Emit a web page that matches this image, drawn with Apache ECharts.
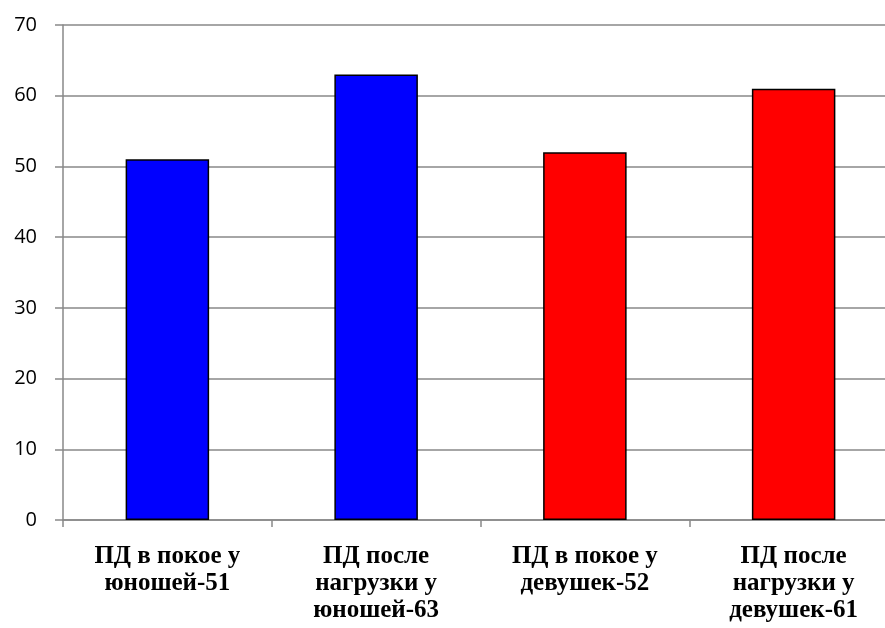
<!DOCTYPE html>
<html>
<head>
<meta charset="utf-8">
<script src="https://cdn.jsdelivr.net/npm/echarts@6/dist/echarts.min.js"></script>
<style>
html, body { margin: 0; padding: 0; background: #fff; }
#chart01 { width: 885px; height: 628px; }
</style>
</head>
<body>
<div id="chart01"></div>
<script>
var categories = ['ПД в покое у\nюношей-51', 'ПД после\nнагрузки у\nюношей-63', 'ПД в покое у\nдевушек-52', 'ПД после\nнагрузки у\nдевушек-61'];
var values = [51, 63, 52, 61];
var barColors = ['#0000FF', '#0000FF', '#FF0000', '#FF0000'];
var yTicks = [0, 10, 20, 30, 40, 50, 60, 70];

var myChart = echarts.init(document.getElementById('chart01'));
option = {
    animation: false,
    grid: {
        left: 63,
        top: 25,
        width: 835,
        height: 495,
        containLabel: false,
        outerBoundsMode: 'none'
    },
    xAxis: {
        type: 'category',
        data: categories,
        axisLine: { lineStyle: { color: '#898989', width: 1.5 } },
        axisTick: { show: true, length: 7, lineStyle: { color: '#898989', width: 1.5 } },
        axisLabel: {
            interval: 0,
            margin: 23,
            fontFamily: 'Liberation Serif',
            fontWeight: 'bold',
            fontSize: 25,
            lineHeight: 27,
            color: '#000'
        }
    },
    yAxis: {
        type: 'value',
        min: yTicks[0],
        max: yTicks[yTicks.length - 1],
        interval: 10,
        axisLine: { show: true, lineStyle: { color: '#898989', width: 1.5 } },
        axisTick: { show: true, length: 8, lineStyle: { color: '#898989', width: 1.5 } },
        splitLine: { lineStyle: { color: '#898989', width: 1.5 } },
        axisLabel: {
            margin: 26,
            fontFamily: 'Open Sans',
            fontSize: 20,
            color: '#000'
        }
    },
    series: [
        {
            type: 'bar',
            barWidth: '40%',
            data: values.map(function (v, i) {
                return {
                    value: v,
                    itemStyle: { color: barColors[i], borderColor: '#000', borderWidth: 1.5 }
                };
            })
        }
    ]
};
if (option && typeof option === "object") {
    myChart.setOption(option, true);
}
</script>
</body>
</html>
